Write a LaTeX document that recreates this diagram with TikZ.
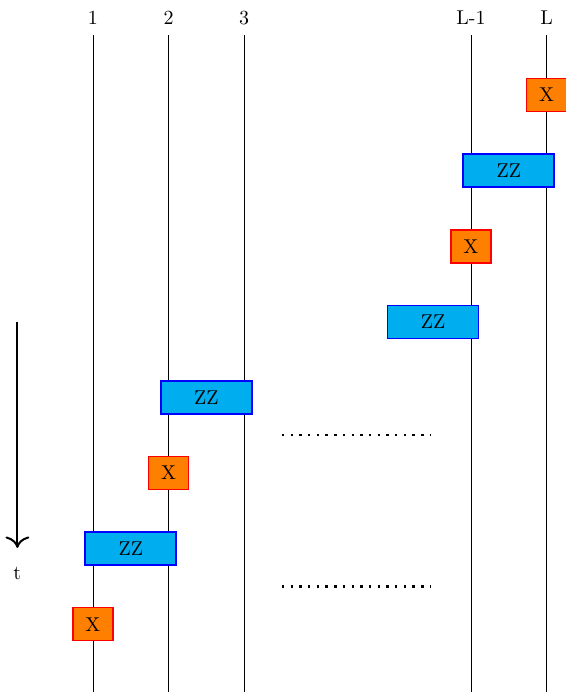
\documentclass[tikz,border=0pt]{standalone}
\usepackage{xcolor}
\usepackage{tikz}
\usetikzlibrary{arrows.meta}
\definecolor{zzcyan}{RGB}{0,174,239}

\begin{document}
\begin{tikzpicture}[x=37.8pt,y=37.8pt,
    xgate/.style={draw=red,thick,fill=orange,minimum width=20pt,minimum height=16.5pt,inner sep=0pt},
    zzgate/.style={draw=blue,thick,fill=zzcyan,minimum width=45.5pt,minimum height=16.5pt,inner sep=0pt},
    dots/.style={line width=1.2pt,dash pattern=on 1.2pt off 3.15pt}]
        \useasboundingbox (-1.23,1.257) rectangle (6.257,-7.897);

        % qubit wires
        \foreach \x/\lab/\nm in {0/1/q1,1/2/q2,2/3/q3,5/L-1/qm,6/L/qL}{
            \node (lab\nm) at (\x,1.02) {\lab};
            \coordinate (top\nm) at (\x,0.79);
            \coordinate (bot\nm) at (\x,-7.897);
            \draw (top\nm)--(bot\nm);
        }

        \node[xgate] (x1) at (6,0) {X};
        \node[zzgate] (zz1) at (5.5,-1) {ZZ};
        \node[xgate] (x2) at (5,-2) {X};
        \node[zzgate] (zz2) at (4.5,-3) {ZZ};
        \node[zzgate] (zz3) at (1.5,-4) {ZZ};
        \node[xgate] (x3) at (1,-5) {X};
        \node[zzgate] (zz4) at (0.5,-6) {ZZ};
        \node[xgate] (x4) at (0,-7) {X};

        \coordinate (da) at (2.5,-4.5);
        \coordinate (db) at (4.47,-4.5);
        \coordinate (dc) at (2.5,-6.5);
        \coordinate (dd) at (4.47,-6.5);
        \draw[dots] (da)--(db);
        \draw[dots] (dc)--(dd);

        % time arrow
        \coordinate (tstart) at (-1,-3);
        \coordinate (tend) at (-1,-5.99);
        \node (tlab) at (-1,-6.33) {t};
        \draw[-{To[scale=1.5]},line width=1pt] (tstart)--(tend);
    \end{tikzpicture}
\end{document}
